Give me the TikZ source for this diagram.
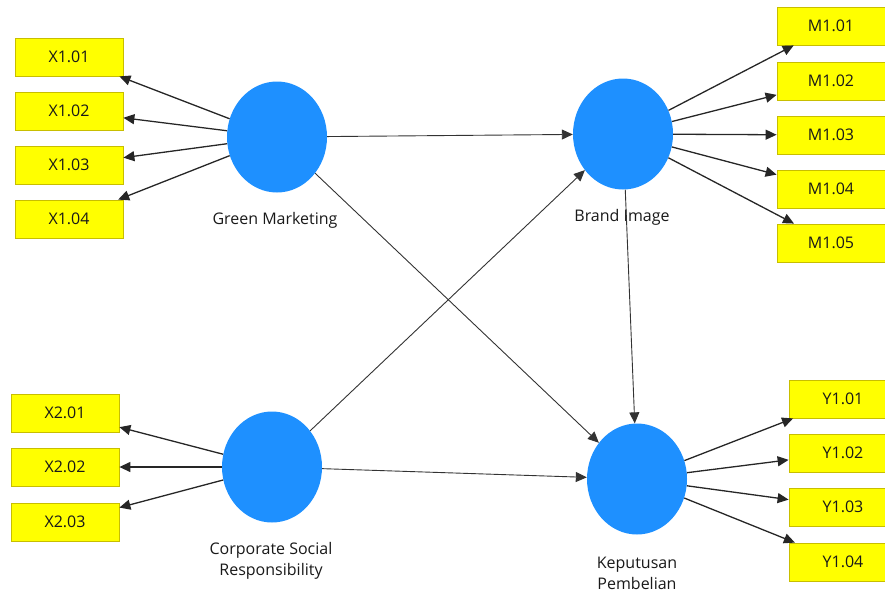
\documentclass[tikz,border=0pt]{standalone}
\usepackage{fontspec}
\setmainfont{Open Sans}
\usetikzlibrary{arrows.meta,shapes.geometric}

\definecolor{lvblue}{RGB}{30,144,255}
\definecolor{indyellow}{RGB}{255,255,0}
\definecolor{indedge}{RGB}{200,190,0}

\begin{document}
\begin{tikzpicture}[x=1pt,y=-1pt,
  latent/.style={ellipse,fill=lvblue,minimum width=100pt,minimum height=111pt,inner sep=0pt},
  indicator/.style={rectangle,fill=indyellow,draw=indedge,line width=0.8pt,
    minimum width=108pt,minimum height=38pt,inner sep=0pt,text=black!90,
    font=\fontsize{16}{19}\selectfont},
  lvlabel/.style={align=center,text=black!90,font=\fontsize{16}{21}\selectfont},
  loading/.style={-{Triangle[length=11pt,width=10pt]},line width=1.3pt,black!85},
  struct/.style={-{Triangle[length=11pt,width=10pt]},line width=0.9pt,black!80}]
\useasboundingbox (0,0) rectangle (885,594);
\clip (0,0) rectangle (885,594);

% latent variables
\node[latent] (gm) at (277,137) {};
\node[latent] (bi) at (623,134) {};
\node[latent] (csr) at (272,467) {};
\node[latent] (kp) at (637,479) {};
\node[lvlabel] (gmlabel) at (275,220) {Green Marketing};
\node[lvlabel] (bilabel) at (622,217) {Brand Image};
\node[lvlabel] (csrlabel) at (271,561) {Corporate Social\\Responsibility};
\node[lvlabel] (kplabel) at (637,573) {Keputusan\\Pembelian};

% indicators
\foreach \i/\y in {1/57,2/111,3/165,4/219}
  \node[indicator] (x1\i) at (69,\y) {X1.0\i};
\foreach \i/\y in {1/413,2/467,3/522}
  \node[indicator] (x2\i) at (65,\y) {X2.0\i};
\foreach \i/\y in {1/26,2/81,3/135,4/189,5/243}
  \node[indicator] (m1\i) at (831,\y) {M1.0\i};
\foreach \i/\y in {1/399,2/453,3/507,4/562}
  \node[indicator] (y1\i) at (843,\y) {Y1.0\i};

% outer loadings
\foreach \i in {1,...,4} \draw[loading] (gm) -- (x1\i);
\foreach \i in {1,...,3} \draw[loading] (csr) -- (x2\i);
\foreach \i in {1,...,5} \draw[loading] (bi) -- (m1\i);
\foreach \i in {1,...,4} \draw[loading] (kp) -- (y1\i);

% inner model
\draw[struct] (gm) -- (bi);
\draw[struct] (gm) -- (kp);
\draw[struct] (csr) -- (bi);
\draw[struct] (csr) -- (kp);
\draw[struct] (bi) -- (kp);
\end{tikzpicture}
\end{document}
